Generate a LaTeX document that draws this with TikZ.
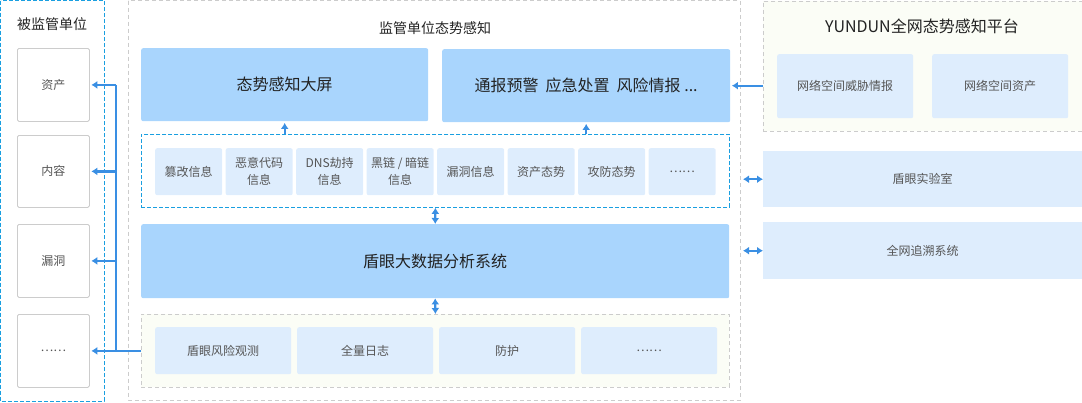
\documentclass[tikz,border=0pt]{standalone}
\usepackage{fontspec}
\setmainfont{Noto Sans CJK SC}
\usetikzlibrary{arrows.meta}
\definecolor{bigfill}{HTML}{A9D5FD}
\definecolor{smallfill}{HTML}{DEEDFD}
\definecolor{arrblue}{HTML}{3A8FE3}
\definecolor{dashblue}{HTML}{1A9FE0}
\definecolor{framegray}{HTML}{CCCCCC}
\definecolor{paleback}{HTML}{FBFDF6}
\definecolor{textgray}{HTML}{555555}
\definecolor{textdark}{HTML}{222222}
\tikzset{
  frame/.style={draw=framegray,dash pattern=on 4pt off 3pt,line width=0.8pt},
  bluedash/.style={draw=dashblue,dash pattern=on 4pt off 2pt,line width=0.8pt},
  unitbox/.style={draw=framegray,fill=white,rounded corners=1.5pt,line width=0.8pt,
    anchor=north west,inner sep=0pt,text=textgray,font=\fontsize{12}{17}\selectfont},
  bigbox/.style={fill=bigfill,rounded corners=2pt,anchor=north west,inner sep=0pt,
    text=textdark,font=\fontsize{16}{20}\selectfont},
  smallbox/.style={fill=smallfill,rounded corners=2pt,anchor=north west,inner sep=0pt,
    text=textgray,align=center,font=\fontsize{12}{17}\selectfont},
  titletext/.style={text=textdark,inner sep=0pt,font=\fontsize{14}{18}\selectfont},
  arr/.style={draw=arrblue,line width=2.2pt,->,>={Latex[length=6pt,width=8pt]},shorten >=1.5pt},
  darr/.style={draw=arrblue,line width=2.2pt,<->,>={Latex[length=6pt,width=8pt]}},
  trunk/.style={draw=arrblue,line width=2.2pt}
}
\begin{document}
\begin{tikzpicture}[x=1pt,y=-1pt]
  \useasboundingbox (0,0) rectangle (1082,402);
  % left column
  \draw [bluedash] (0.5,0.5) rectangle (104,401);
  \node [titletext] (tL) at (52,24) {被监管单位};
  \node [unitbox,minimum width=72pt,minimum height=73pt] (zc) at (17,48) {资产};
  \node [unitbox,minimum width=72pt,minimum height=72pt] (nr) at (17,135) {内容};
  \node [unitbox,minimum width=72pt,minimum height=73pt] (ld) at (17,224) {漏洞};
  \node [unitbox,minimum width=72pt,minimum height=73pt] (ety) at (17,314) {……};
  % middle column
  \draw [frame] (128,0.5) rectangle (740,400);
  \node [titletext] (tM) at (435,28) {监管单位态势感知};
  \node [bigbox,minimum width=287pt,minimum height=73pt] (dp) at (141,48) {态势感知大屏};
  \node [bigbox,minimum width=288pt,minimum height=73pt] (tb) at (442,49)
    {通报预警\hspace{7pt}应急处置\hspace{7pt}风险情报 ...};
  \node [bluedash,anchor=north west,inner sep=0pt,minimum width=588pt,minimum height=73pt] (info) at (141,134) {};
  \foreach \txt [count=\i from 0] in {篡改信息,恶意代码\\信息,DNS劫持\\信息,黑链 / 暗链\\信息,漏洞信息,资产态势,攻防态势,……}
    \node [smallbox,minimum width=67pt,minimum height=47pt] (inf\i) at (155+70.5*\i,148) {\txt};
  \node [bigbox,minimum width=588pt,minimum height=74pt] (dsj) at (141,224) {盾眼大数据分析系统};
  \node [frame,fill=paleback,anchor=north west,inner sep=0pt,minimum width=588pt,minimum height=73pt] (bot) at (141,314) {};
  \foreach \txt [count=\i from 0] in {盾眼风险观测,全量日志,防护,……}
    \node [smallbox,minimum width=136pt,minimum height=47pt] (bt\i) at (155+142*\i,327) {\txt};
  % right column
  \node [frame,fill=paleback,anchor=north west,inner sep=0pt,minimum width=319pt,minimum height=130pt] (yd) at (763,0.5) {};
  \node [titletext,font=\fontsize{16}{20}\selectfont] (tR) at (922,26) {YUNDUN全网态势感知平台};
  \node [smallbox,minimum width=136pt,minimum height=64pt] (wx) at (777,54) {网络空间威胁情报};
  \node [smallbox,minimum width=136pt,minimum height=64pt] (wz) at (932,54) {网络空间资产};
  \node [smallbox,rounded corners=0pt,minimum width=319pt,minimum height=56pt] (lab) at (763,151) {盾眼实验室};
  \node [smallbox,rounded corners=0pt,minimum width=319pt,minimum height=57pt] (zs) at (763,222) {全网追溯系统};
  % connectors
  \coordinate (jn) at (116,0);
  \draw [trunk] (jn |- zc.east) -- (jn |- ety.east);
  \draw [arr] (jn |- zc.east) -- (zc.east);
  \draw [arr] (jn |- nr.east) -- (nr.east);
  \draw [arr] (jn |- ld.east) -- (ld.east);
  \draw [arr] (bot.west |- ety.east) -- (ety.east);
  \draw [arr] (dp.south |- info.north) -- (dp.south);
  \draw [arr] (tb.south |- info.north) -- (tb.south);
  \draw [darr] (info.south) -- (dsj.north);
  \draw [darr] (dsj.south) -- (bot.north);
  \draw [arr] (yd.west |- tb.east) -- (tb.east);
  \coordinate (rj) at (743,0);
  \draw [darr] (rj |- lab.west) -- (lab.west);
  \draw [darr] (rj |- zs.west) -- (zs.west);
\end{tikzpicture}
\end{document}
